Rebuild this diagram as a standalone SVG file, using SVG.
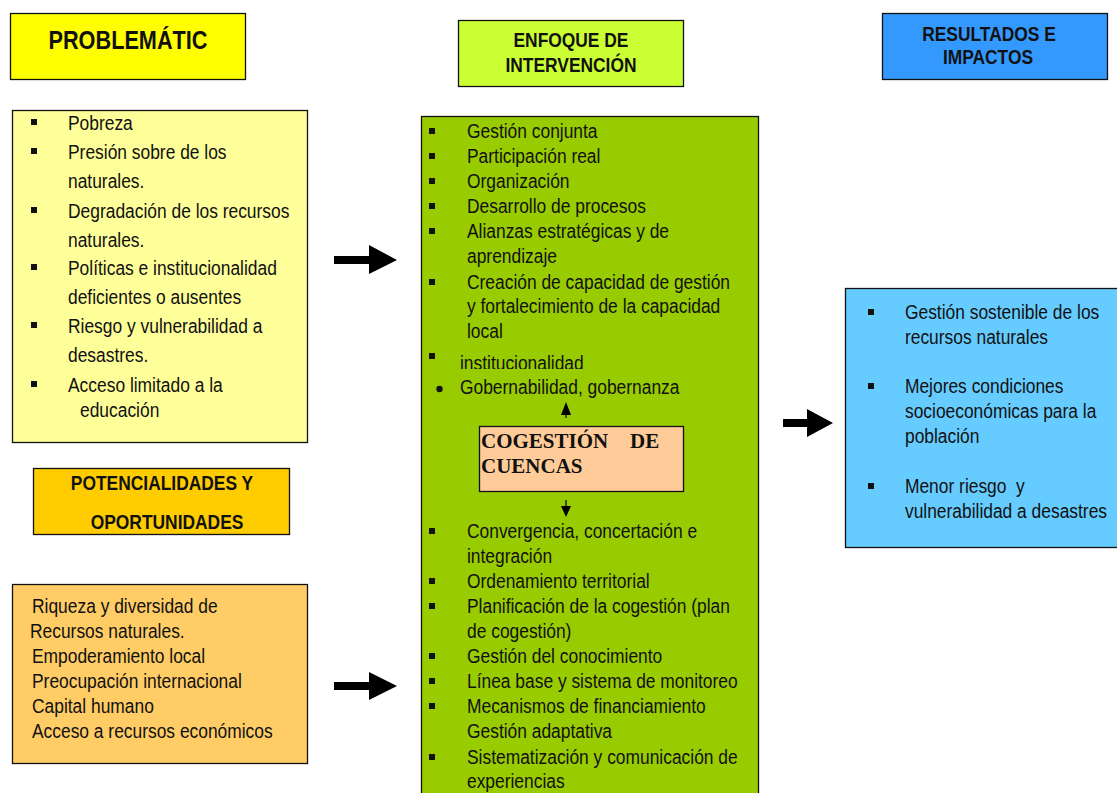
<svg xmlns="http://www.w3.org/2000/svg" width="1117" height="793" viewBox="0 0 1117 793">
<style>
.box{stroke:#111;stroke-width:1.3}
.t{font-family:"Liberation Sans",Arial,sans-serif;font-size:20px;fill:#111}
.h{font-family:"Liberation Sans",Arial,sans-serif;font-size:20px;font-weight:bold;fill:#111;text-anchor:middle}
.s{font-family:"Liberation Serif","Times New Roman",serif;font-size:21px;font-weight:bold;fill:#111}
.b{fill:#111}
.pre{white-space:pre}
</style>
<defs>
<clipPath id="clipInst"><rect x="420" y="340" width="340" height="29"/></clipPath>
</defs>
<rect width="1117" height="793" fill="#fff"/>

<g id="hdr-problematic">
<rect class="box" x="10.5" y="13.5" width="235" height="66" fill="#FFFF00"/>
<text x="128" y="49" font-family="Liberation Sans,Arial,sans-serif" font-size="25" font-weight="bold" fill="#111" text-anchor="middle" textLength="159" lengthAdjust="spacingAndGlyphs">PROBLEMÁTIC</text>
</g>

<g id="hdr-enfoque">
<rect class="box" x="458.5" y="20.5" width="225" height="66" fill="#CCFF33"/>
<g transform="scale(0.87,1)">
<text class="h" x="656.3" y="47">ENFOQUE DE</text>
<text class="h" x="656.3" y="72">INTERVENCIÓN</text>
</g>
</g>

<g id="hdr-resultados">
<rect class="box" x="882.5" y="13.5" width="225" height="66" fill="#3399FF"/>
<g transform="scale(0.87,1)">
<text class="h" x="1136.8" y="41">RESULTADOS E</text>
<text class="h" x="1135.6" y="64">IMPACTOS</text>
</g>
</g>

<g id="problemas">
<rect class="box" x="12.5" y="110.5" width="295" height="332" fill="#FFFF99"/>
<rect class="b" x="31" y="119" width="6" height="6"/>
<rect class="b" x="31" y="148" width="6" height="6"/>
<rect class="b" x="31" y="207" width="6" height="6"/>
<rect class="b" x="31" y="264" width="6" height="6"/>
<rect class="b" x="31" y="322" width="6" height="6"/>
<rect class="b" x="31" y="381" width="6" height="6"/>
<g transform="scale(0.87,1)">
<text class="t" x="78.2" y="130">Pobreza</text>
<text class="t" x="78.2" y="159">Presión sobre de los</text>
<text class="t" x="78.2" y="188">naturales.</text>
<text class="t" x="78.2" y="218">Degradación de los recursos</text>
<text class="t" x="78.2" y="247">naturales.</text>
<text class="t" x="78.2" y="275">Políticas e institucionalidad</text>
<text class="t" x="78.2" y="304">deficientes o ausentes</text>
<text class="t" x="78.2" y="333">Riesgo y vulnerabilidad a</text>
<text class="t" x="78.2" y="362">desastres.</text>
<text class="t" x="78.2" y="392">Acceso limitado a la</text>
<text class="t" x="92" y="417">educación</text>
</g>
</g>

<g id="hdr-potencialidades">
<rect class="box" x="33.5" y="468.5" width="256" height="66" fill="#FFCC00"/>
<g transform="scale(0.87,1)">
<text class="h" x="186.2" y="490">POTENCIALIDADES Y</text>
<text class="h" x="192" y="529">OPORTUNIDADES</text>
</g>
</g>

<g id="potencialidades">
<rect class="box" x="12.5" y="584.5" width="295" height="179" fill="#FFCC66"/>
<g transform="scale(0.87,1)">
<text class="t" x="36.8" y="613">Riqueza y diversidad de</text>
<text class="t" x="34.5" y="638">Recursos naturales.</text>
<text class="t" x="36.8" y="663">Empoderamiento local</text>
<text class="t" x="36.8" y="688">Preocupación internacional</text>
<text class="t" x="36.8" y="713">Capital humano</text>
<text class="t" x="36.8" y="738">Acceso a recursos económicos</text>
</g>
</g>

<g id="enfoque">
<rect class="box" x="421.5" y="116.5" width="337" height="690" fill="#99CC00"/>
<rect class="b" x="429" y="128" width="6" height="6"/>
<rect class="b" x="429" y="153" width="6" height="6"/>
<rect class="b" x="429" y="178" width="6" height="6"/>
<rect class="b" x="429" y="203" width="6" height="6"/>
<rect class="b" x="429" y="228" width="6" height="6"/>
<rect class="b" x="429" y="279" width="6" height="6"/>
<rect class="b" x="429" y="353" width="6" height="6"/>
<circle class="b" cx="439.5" cy="389" r="3.2"/>
<rect class="b" x="429" y="528" width="6" height="6"/>
<rect class="b" x="429" y="578" width="6" height="6"/>
<rect class="b" x="429" y="603" width="6" height="6"/>
<rect class="b" x="429" y="653" width="6" height="6"/>
<rect class="b" x="429" y="678" width="6" height="6"/>
<rect class="b" x="429" y="703" width="6" height="6"/>
<rect class="b" x="429" y="754" width="6" height="6"/>
<g transform="scale(0.87,1)">
<text class="t" x="536.8" y="138">Gestión conjunta</text>
<text class="t" x="536.8" y="163">Participación real</text>
<text class="t" x="536.8" y="188">Organización</text>
<text class="t" x="536.8" y="213">Desarrollo de procesos</text>
<text class="t" x="536.8" y="238">Alianzas estratégicas y de</text>
<text class="t" x="536.8" y="263">aprendizaje</text>
<text class="t" x="536.8" y="289">Creación de capacidad de gestión</text>
<text class="t" x="536.8" y="313">y fortalecimiento de la capacidad</text>
<text class="t" x="536.8" y="338">local</text>
</g>
<g clip-path="url(#clipInst)">
<g transform="scale(0.87,1)">
<text class="t" x="528.7" y="370.5">institucionalidad</text>
</g>
</g>
<g transform="scale(0.87,1)">
<text class="t" x="528.7" y="394.5">Gobernabilidad, gobernanza</text>
<text class="t" x="536.8" y="538">Convergencia, concertación e</text>
<text class="t" x="536.8" y="563">integración</text>
<text class="t" x="536.8" y="588">Ordenamiento territorial</text>
<text class="t" x="536.8" y="613">Planificación de la cogestión (plan</text>
<text class="t" x="536.8" y="638">de cogestión)</text>
<text class="t" x="536.8" y="663">Gestión del conocimiento</text>
<text class="t" x="536.8" y="688">Línea base y sistema de monitoreo</text>
<text class="t" x="536.8" y="713">Mecanismos de financiamiento</text>
<text class="t" x="536.8" y="738">Gestión adaptativa</text>
<text class="t" x="536.8" y="764">Sistematización y comunicación de</text>
<text class="t" x="536.8" y="788">experiencias</text>
</g>
</g>

<g id="cogestion">
<rect class="box" x="479.5" y="426.5" width="204" height="65" fill="#FFCC99"/>
<text class="s" x="481" y="448">COGESTIÓN</text>
<text class="s" x="630" y="448">DE</text>
<text class="s" x="481" y="473">CUENCAS</text>
</g>

<g id="resultados">
<rect class="box" x="845.5" y="288.5" width="275" height="259" fill="#66CCFF"/>
<rect class="b" x="868" y="309" width="6" height="6"/>
<rect class="b" x="868" y="383" width="6" height="6"/>
<rect class="b" x="868" y="483" width="6" height="6"/>
<g transform="scale(0.87,1)">
<text class="t" x="1040.2" y="319">Gestión sostenible de los</text>
<text class="t" x="1040.2" y="344">recursos naturales</text>
<text class="t" x="1040.2" y="393">Mejores condiciones</text>
<text class="t" x="1040.2" y="418">socioeconómicas para la</text>
<text class="t" x="1040.2" y="443">población</text>
<text class="t pre" x="1040.2" y="493">Menor riesgo  y</text>
<text class="t" x="1040.2" y="518">vulnerabilidad a desastres</text>
</g>
</g>

<g id="connectors" fill="#000" stroke="none">
<polygon points="334,256 369,256 369,245 397,260 369,274 369,264 334,264"/>
<polygon points="334,682 369,682 369,672 397,686 369,700 369,690 334,690"/>
<polygon points="783,419 807,419 807,409 833,423 807,437 807,427 783,427"/>
<line x1="566" y1="412" x2="566" y2="418" stroke="#000" stroke-width="1.2"/>
<polygon points="566,402 571,415 561,415"/>
<line x1="566" y1="500" x2="566" y2="509" stroke="#000" stroke-width="1.2"/>
<polygon points="561,506 571,506 566,517"/>
</g>
</svg>
